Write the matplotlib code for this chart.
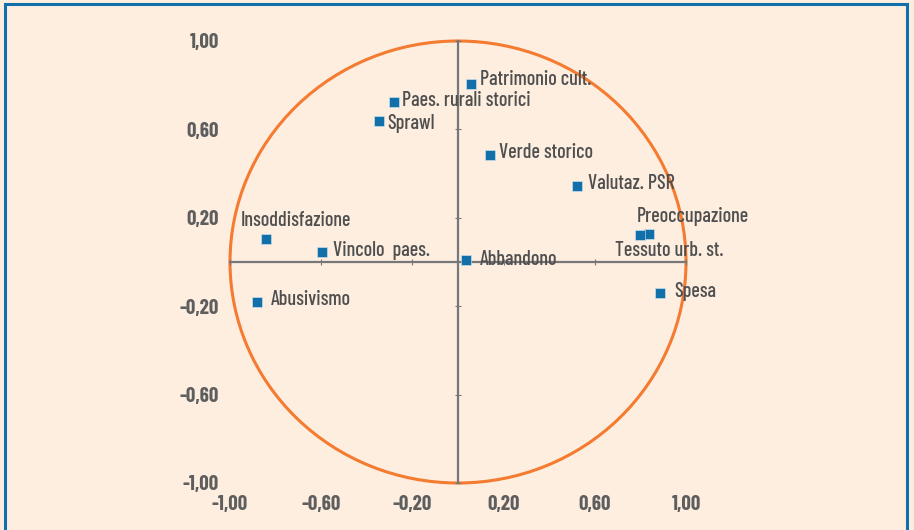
import matplotlib
matplotlib.use("Agg")
import matplotlib.pyplot as plt
from matplotlib.patches import Ellipse, Rectangle

# variables and their coordinates on the two factorial axes
labels = [
    "Patrimonio cult.", "Paes. rurali storici", "Sprawl", "Verde storico",
    "Valutaz. PSR", "Preoccupazione", "Tessuto urb. st.", "Abbandono",
    "Spesa", "Insoddisfazione", "Vincolo  paes.", "Abusivismo",
]
x_vals = [0.056, -0.282, -0.345, 0.142, 0.520, 0.839, 0.798, 0.035, 0.887, -0.841, -0.596, -0.880]
y_vals = [0.805, 0.723, 0.639, 0.486, 0.344, 0.128, 0.121, 0.008, -0.142, 0.104, 0.044, -0.181]
tick_vals = [-1.0, -0.6, -0.2, 0.2, 0.6, 1.0]
tick_text = ["-1,00", "-0,60", "-0,20", "0,20", "0,60", "1,00"]

# label offsets in pixels (dx, dy) from the marker
offsets = {
    "Patrimonio cult.": (9, 5),
    "Paes. rurali storici": (8, 2),
    "Sprawl": (8, -3),
    "Verde storico": (9, 2),
    "Valutaz. PSR": (11, 2),
    "Preoccupazione": (-13, 17),
    "Tessuto urb. st.": (-25, -15),
    "Abbandono": (14, 1),
    "Spesa": (14, 2),
    "Insoddisfazione": (-26, 19),
    "Vincolo  paes.": (11, 2),
    "Abusivismo": (13, 3),
}

plt.rcParams["font.family"] = ["Barlow Condensed", "DejaVu Sans"]

bg = "#fdeee0"
orange = "#f47b30"
blue = "#1170aa"
axis_grey = "#777777"
text_grey = "#4f4f4f"

W, H = 914, 530
fig = plt.figure(figsize=(W / 100, H / 100), dpi=100)
fig.patch.set_facecolor(bg)
fig.patches.append(Rectangle((5 / W, -0.01), 902 / W, 1.0 - 4 / H + 0.01, transform=fig.transFigure,
                             fill=False, edgecolor=blue, lw=2.2))

ax = fig.add_axes([230 / W, (H - 483) / H, 456 / W, 442 / H])
ax.set_facecolor(bg)
ax.set_xlim(-1, 1)
ax.set_ylim(-1, 1)
for s in ax.spines.values():
    s.set_visible(False)

ax.add_patch(Ellipse((0, 0), 2, 2, fill=False, edgecolor=orange, lw=2.2, clip_on=False, zorder=1))
ax.plot([-1, 1], [0, 0], color=axis_grey, lw=1.6, zorder=2, clip_on=False)
ax.plot([0, 0], [-1, 1], color=axis_grey, lw=1.6, zorder=2, clip_on=False)
ax.plot(tick_vals, [0] * len(tick_vals), ls="none", marker="|", ms=4, mew=0.8,
        color=axis_grey, zorder=2, clip_on=False)
ax.plot([0] * len(tick_vals), tick_vals, ls="none", marker="_", ms=4, mew=0.8,
        color=axis_grey, zorder=2, clip_on=False)

ax.plot(x_vals, y_vals, ls="none", marker="s", ms=7.5, color=blue, mec="#d8e8f2", mew=0.4,
        zorder=3, clip_on=False)
for lab, x, y in zip(labels, x_vals, y_vals):
    dx, dy = offsets[lab]
    ax.annotate(lab, (x, y), xytext=(dx * 0.72, dy * 0.72), textcoords="offset points",
                ha="left", va="center", fontsize=14.5, fontweight=500, color=text_grey, zorder=4)

ax.set_xticks(tick_vals)
ax.set_xticklabels(tick_text)
ax.set_yticks(tick_vals)
ax.set_yticklabels(tick_text)
ax.tick_params(length=0, labelsize=15, labelcolor="#5e5e5e")
ax.tick_params(axis="x", pad=9)
ax.tick_params(axis="y", pad=8)
for t in ax.get_xticklabels() + ax.get_yticklabels():
    t.set_fontweight(700)

fig.savefig("out.png", dpi=100, facecolor=bg)
